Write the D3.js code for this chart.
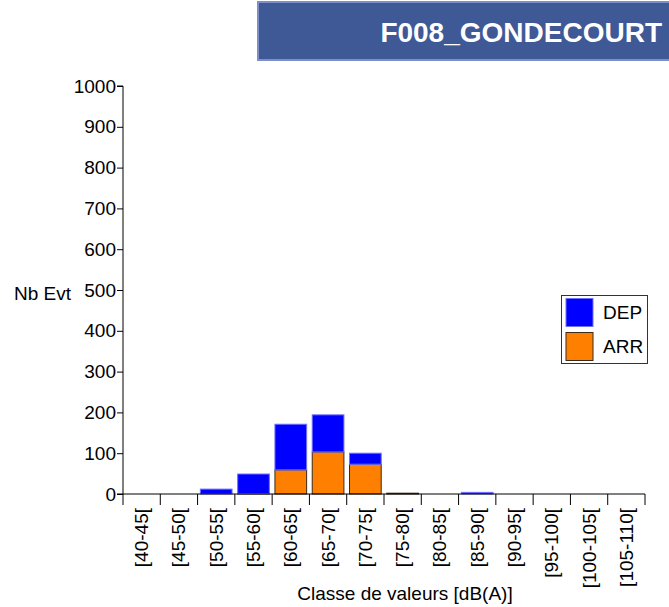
<!DOCTYPE html>
<html>
<head>
<meta charset="utf-8">
<script src="https://cdn.jsdelivr.net/npm/d3@7"></script>
<style>
  html, body { margin: 0; padding: 0; background: #fff; }
  svg { display: block; font-family: "Liberation Sans", Arial, sans-serif; }
</style>
</head>
<body>
<svg id="chart" width="669" height="607"></svg>
<script>
const title = "F008_GONDECOURT";
const categories = ["[40-45[", "[45-50[", "[50-55[", "[55-60[", "[60-65[", "[65-70[", "[70-75[", "[75-80[", "[80-85[", "[85-90[", "[90-95[", "[95-100[", "[100-105[", "[105-110["];
const arrValues = [0, 0, 0, 1, 59, 103, 73, 2, 0, 0, 0, 0, 0, 0];
const depValues = [0, 0, 12, 48, 112, 91, 27, 0, 0, 4, 0, 0, 0, 0];
const yTicks = [0, 100, 200, 300, 400, 500, 600, 700, 800, 900, 1000];
const seriesNames = ["DEP", "ARR"];
const seriesColors = { DEP: "#0000FF", ARR: "#FF8000" };
const yLabel = "Nb Evt";
const xLabel = "Classe de valeurs [dB(A)]";

(function () {
const svg = d3.select("#chart");
const mLeft = 123, mRight = 645, mTop = 86, mBottom = 494;
const fs = 19;

// Title banner
svg.append("rect").attr("x", 258).attr("y", 2).attr("width", 420).attr("height", 58)
  .attr("fill", "#3F5896").attr("stroke", "#7B90C8").attr("stroke-width", 2);
svg.append("text").attr("x", 662).attr("y", 42).attr("text-anchor", "end")
  .attr("fill", "#fff").attr("font-weight", "bold").attr("font-size", 28).text(title);

const x = d3.scaleBand().domain(categories).range([mLeft, mRight]).paddingInner(0.15).paddingOuter(0.075);
const y = d3.scaleLinear().domain([0, 1000]).range([mBottom, mTop]);

const rows = categories.map((c, i) => ({ cat: c, ARR: arrValues[i], DEP: depValues[i] }));
const stack = d3.stack().keys(["ARR", "DEP"])(rows);

const g = svg.append("g");
stack.forEach(layer => {
  g.selectAll(null).data(layer.filter(d => d[1] - d[0] > 0)).join("rect")
    .attr("x", d => x(d.data.cat))
    .attr("width", x.bandwidth())
    .attr("y", d => y(d[1]))
    .attr("height", d => y(d[0]) - y(d[1]))
    .attr("fill", seriesColors[layer.key])
    .attr("stroke", layer.key === "ARR" ? "#3a2a1a" : "#7070ff")
    .attr("stroke-width", 1);
});

// Y axis
const yAxis = d3.axisLeft(y).tickValues(yTicks).tickSize(6).tickPadding(1).tickFormat(d3.format("d"));
const ya = svg.append("g").attr("transform", `translate(${mLeft},0)`).call(yAxis);
ya.select(".domain").attr("d", `M-6,${mTop}H0V${mBottom + 11}`).attr("stroke", "#000");
ya.selectAll("text").attr("font-size", fs).attr("font-family", "Liberation Sans, Arial, sans-serif").attr("fill", "#000");
ya.selectAll("line").attr("stroke", "#000");

// X axis line and ticks at band boundaries
const xa = svg.append("g");
xa.append("line").attr("x1", mLeft - 6).attr("x2", mRight).attr("y1", mBottom).attr("y2", mBottom).attr("stroke", "#000");
const step = x.step();
const bounds = categories.map(c => x(c) - (step - x.bandwidth()) / 2 + step);
xa.selectAll(null).data(bounds).join("line")
  .attr("x1", d => d).attr("x2", d => d).attr("y1", mBottom).attr("y2", mBottom + 11)
  .attr("stroke", "#000");

// X labels rotated
xa.selectAll(null).data(categories).join("text")
  .attr("transform", d => `translate(${x(d) + x.bandwidth() / 2},${mBottom + 14}) rotate(-90)`)
  .attr("text-anchor", "end").attr("dominant-baseline", "central")
  .attr("font-size", fs).attr("fill", "#000").text(d => d);

// Axis titles
svg.append("text").attr("x", 14).attr("y", 300).attr("font-size", fs).text(yLabel);
svg.append("text").attr("x", 405).attr("y", 600).attr("text-anchor", "middle")
  .attr("font-size", fs).text(xLabel);

// Legend
const lg = svg.append("g");
lg.append("rect").attr("x", 561.5).attr("y", 295.5).attr("width", 86).attr("height", 68)
  .attr("fill", "#fff").attr("stroke", "#333");
seriesNames.forEach((s, i) => {
  lg.append("rect").attr("x", 566).attr("y", 298.5 + i * 34).attr("width", 27).attr("height", 28)
    .attr("fill", seriesColors[s]).attr("stroke", s === "ARR" ? "#3a2a1a" : "#7070ff");
  lg.append("text").attr("x", 603).attr("y", 319 + i * 34).attr("font-size", fs).text(s);
});
})();
</script>
</body>
</html>
